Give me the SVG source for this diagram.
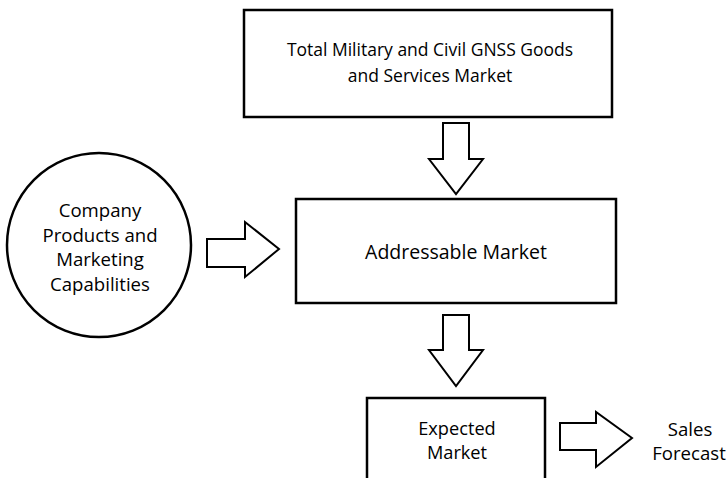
<svg xmlns="http://www.w3.org/2000/svg" width="727" height="478" viewBox="0 0 727 478">
<style>
.box{fill:#fff;stroke:#000;stroke-width:2.5}
.arr{fill:#fff;stroke:#000;stroke-width:2;stroke-linejoin:miter}
text{font-family:"Open Sans","Noto Sans","Liberation Sans",sans-serif;font-size:19.5px;fill:#000;text-anchor:middle}
.s{font-size:17.5px}
.m{font-size:18.2px}
.c{font-size:18.6px}
</style>
<rect width="727" height="478" fill="#fff"/>
<g id="total-market">
<rect class="box" x="244" y="10" width="368" height="107"/>
<text class="s" x="430" y="56">Total Military and Civil GNSS Goods</text>
<text class="s" x="430" y="82">and Services Market</text>
</g>
<g id="company">
<circle class="box" cx="99" cy="245" r="92"/>
<text class="c" x="100" y="217">Company</text>
<text class="c" x="100" y="242">Products and</text>
<text class="c" x="100" y="266">Marketing</text>
<text class="c" x="100" y="291">Capabilities</text>
</g>
<g id="addressable">
<rect class="box" x="296" y="199" width="320" height="104"/>
<text x="456" y="259">Addressable Market</text>
</g>
<g id="expected">
<rect class="box" x="367" y="398" width="178" height="90"/>
<text class="m" x="457" y="435">Expected</text>
<text class="m" x="457" y="459">Market</text>
</g>
<g id="sales">
<text class="c" x="690" y="436">Sales</text>
<text class="c" x="689" y="460">Forecast</text>
</g>
<g id="connectors">
<path class="arr" d="M443,123 H469 V159 H483 L456,194 L429,159 H443 Z"/>
<path class="arr" d="M207,239 V267 H245 V277 L279,249 L245,222 V239 Z"/>
<path class="arr" d="M443,315 H469 V350 H483 L456,386 L429,350 H443 Z"/>
<path class="arr" d="M560,423 V450 H596 V467 L632,438 L596,412 V423 Z"/>
</g>
</svg>
